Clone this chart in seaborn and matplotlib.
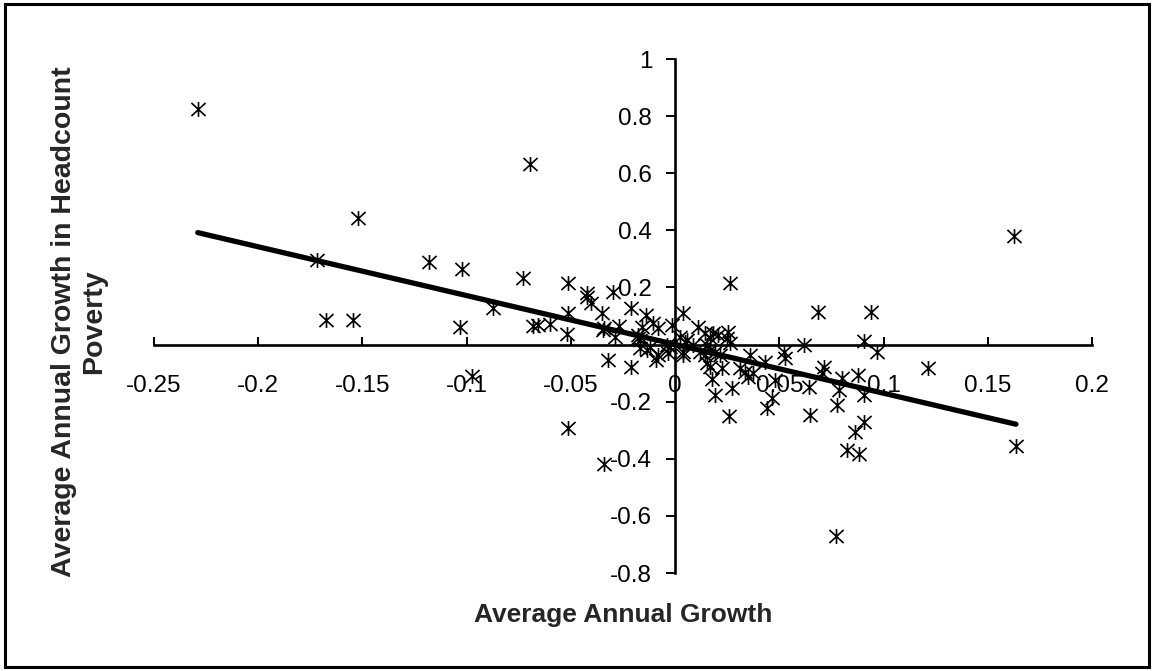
import numpy as np
import pandas as pd
import matplotlib
matplotlib.use("Agg")
import matplotlib.pyplot as plt
import seaborn as sns
from matplotlib.path import Path
from matplotlib.patches import Rectangle

# ---------------- data ----------------
growth = [
    -0.2287, -0.1716, -0.1520, -0.1676, -0.1547, -0.1180, -0.1020, -0.0728, -0.0875, -0.1032,
    -0.0680, -0.0656, -0.0976, -0.0696, -0.0600, -0.0512, -0.0512, -0.0520, -0.0424, -0.0405,
    -0.0352, -0.0299, -0.0347, -0.0288, -0.0267, -0.0320, -0.0213, -0.0213, -0.0139, -0.0176,
    -0.0160, -0.0104, -0.0080, -0.0016, -0.0091, -0.0120, -0.0168, 0.0040, 0.0112, 0.0192,
    -0.0180, -0.0136, -0.0080, -0.0024, -0.0032, 0.0040, 0.0056, 0.0264, 0.0024, 0.0048,
    -0.0040, 0.0040, 0.0088, 0.0144, 0.0168, 0.0184, 0.0208, 0.0256, 0.0248, 0.0264,
    0.0152, 0.0168, 0.0120, 0.0144, 0.0192, 0.0216, 0.0152, 0.0168, 0.0224, 0.0176,
    0.0272, 0.0260, 0.0360, 0.0312, 0.0336, 0.0352, 0.0432, 0.0440, 0.0464, 0.0480,
    0.0685, 0.0940, 0.0616, 0.0908, 0.0968, 0.0520, 0.0528, 0.0640, 0.0648, 0.0712,
    0.0704, 0.0800, 0.0784, 0.0776, 0.0876, 0.0908, 0.0908, 0.0864, 0.0827, 0.0880,
    0.1215, 0.1635, 0.1627, 0.0376, -0.0512, -0.0340, 0.0773, -0.0340, -0.0168, -0.0424,
]
poverty_growth = [
    0.824, 0.296, 0.444, 0.086, 0.086, 0.290, 0.265, 0.234, 0.127, 0.061,
    0.065, 0.068, -0.110, 0.632, 0.072, 0.217, 0.112, 0.036, 0.168, 0.145,
    0.110, 0.185, 0.051, 0.028, 0.065, -0.054, 0.127, -0.077, 0.104, 0.022,
    0.063, 0.075, 0.057, 0.069, -0.054, -0.007, -0.013, 0.112, 0.063, -0.176,
    0.034, -0.019, -0.036, -0.007, -0.030, -0.025, 0.016, 0.215, 0.028, 0.010,
    -0.001, -0.036, -0.001, 0.039, 0.022, 0.039, 0.034, 0.045, 0.022, 0.005,
    -0.001, -0.019, -0.025, -0.036, -0.025, -0.036, -0.065, -0.077, -0.083, -0.122,
    -0.153, -0.250, -0.036, -0.083, -0.095, -0.112, -0.060, -0.223, -0.188, -0.124,
    0.115, 0.115, -0.001, 0.014, -0.025, -0.025, -0.048, -0.147, -0.246, -0.077,
    -0.100, -0.118, -0.159, -0.211, -0.106, -0.176, -0.270, -0.305, -0.369, -0.383,
    -0.081, -0.355, 0.380, -0.100, -0.292, -0.418, -0.670, 0.057, 0.016, 0.180,
]

trend_x = [-0.229, 0.1635]
trend_y = [0.392, -0.279]

x_ticks = [-0.25, -0.2, -0.15, -0.1, -0.05, 0, 0.05, 0.1, 0.15, 0.2]
x_tick_labels = ["-0.25", "-0.2", "-0.15", "-0.1", "-0.05", "0", "0.05", "0.1", "0.15", "0.2"]
y_ticks = [-0.8, -0.6, -0.4, -0.2, 0, 0.2, 0.4, 0.6, 0.8, 1]
y_tick_labels = ["-0.8", "-0.6", "-0.4", "-0.2", "", "0.2", "0.4", "0.6", "0.8", "1"]

x_label = "Average Annual Growth"
y_label = "Average Annual Growth in Headcount\nPoverty"

df = pd.DataFrame({"growth": growth, "poverty": poverty_growth})
trend = pd.DataFrame({"x": trend_x, "y": trend_y})

# ---------------- style ----------------
sns.set_style("white")
plt.rcParams["font.family"] = ["Liberation Sans", "DejaVu Sans"]

W, H = 1153, 671
fig = plt.figure(figsize=(W / 100, H / 100), dpi=100)
ax = fig.add_axes([154 / W, 98 / H, 938 / W, 514 / H])
ax.set_facecolor("white")

# Excel-like asterisk marker: X plus vertical bar
MV, LT = Path.MOVETO, Path.LINETO
star = Path(
    [(0, -1), (0, 1), (-0.95, -0.88), (0.95, 0.88), (-0.95, 0.88), (0.95, -0.88)],
    [MV, LT, MV, LT, MV, LT],
)

sns.lineplot(data=trend, x="x", y="y", ax=ax, color="black", linewidth=3.8,
             solid_capstyle="round", zorder=2)
sns.scatterplot(data=df, x="growth", y="poverty", ax=ax, marker=star, s=115,
                color="black", edgecolor="black", linewidth=1.2, zorder=3,
                clip_on=False, legend=False)

ax.set_xlim(-0.25, 0.2)
ax.set_ylim(-0.8, 1.0)

for side in ["top", "right"]:
    ax.spines[side].set_visible(False)
ax.spines["left"].set_position(("data", 0))
ax.spines["bottom"].set_position(("data", 0))
for side in ["left", "bottom"]:
    ax.spines[side].set_linewidth(1.9)
    ax.spines[side].set_color("black")

ax.set_xticks(x_ticks)
ax.set_xticklabels(x_tick_labels)
ax.set_yticks(y_ticks)
ax.set_yticklabels(y_tick_labels)
ax.tick_params(axis="x", bottom=True, direction="in", length=6, width=1.4, pad=22,
               labelsize=17.5, colors="black")
ax.tick_params(axis="y", left=True, direction="out", length=6.5, width=1.4, pad=10,
               labelsize=17.5, colors="black")

ax.set_xlabel(x_label, fontsize=19, fontweight="bold", va="center")
ax.xaxis.set_label_coords(0.5, -0.082)
ax.set_ylabel(y_label, fontsize=20.5, fontweight="bold", va="center",
              ha="center", multialignment="center", linespacing=1.2)
ax.yaxis.set_label_coords((79 - 154) / 938, (573 - 322) / 514)

# outer figure frame
fig.patches.append(Rectangle((5 / W, 4 / H), (1149 - 5) / W, (667 - 4) / H,
                             transform=fig.transFigure, fill=False,
                             linewidth=2.2, edgecolor="black"))

fig.savefig("out.png", dpi=100, facecolor="white")
